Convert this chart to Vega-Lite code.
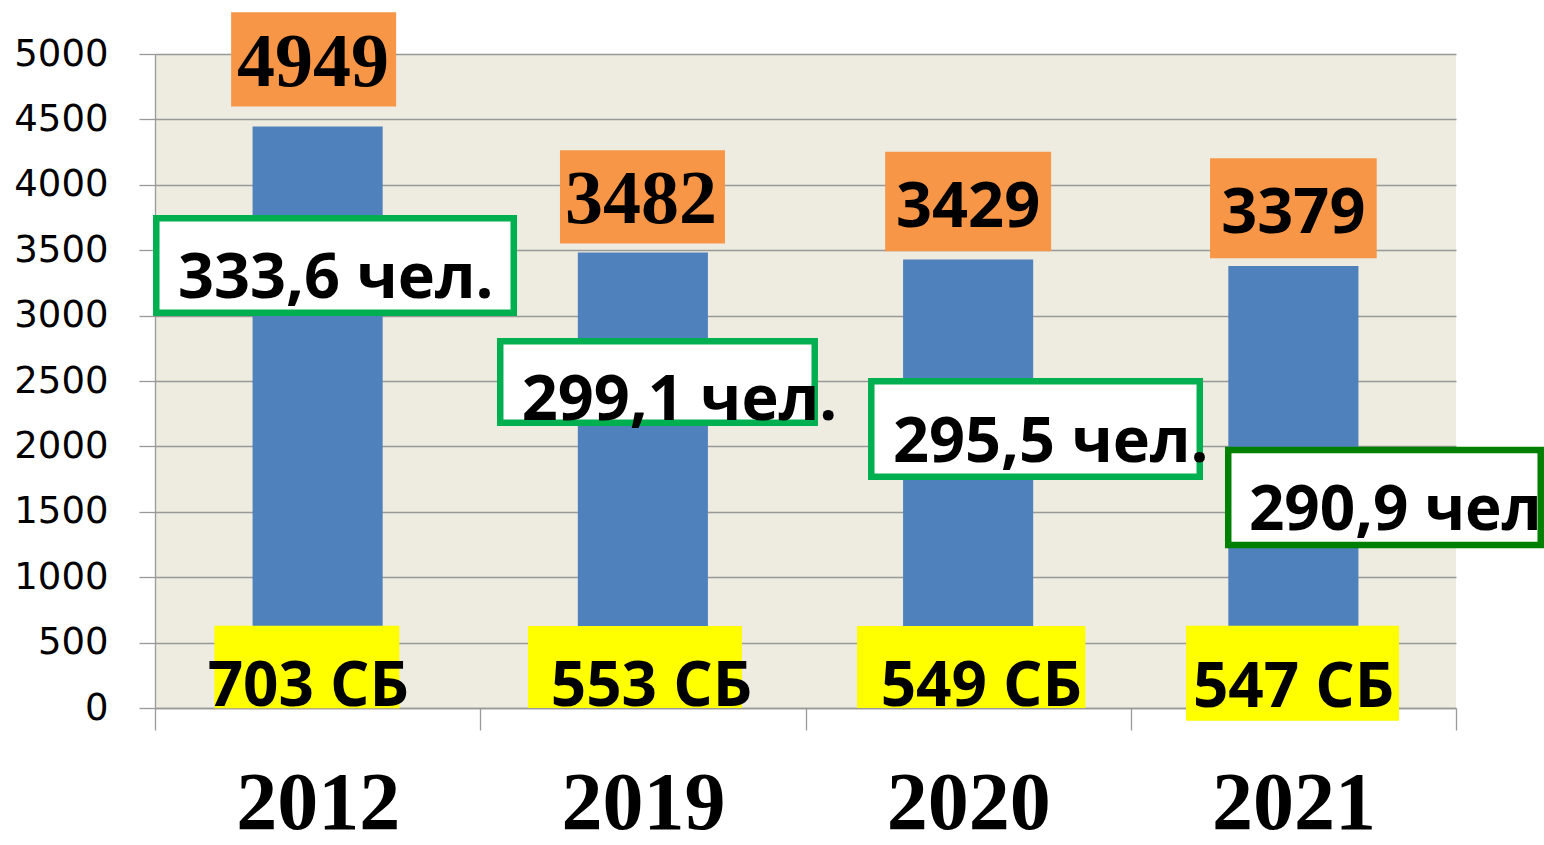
{
  "$schema": "https://vega.github.io/schema/vega-lite/v6.json",
  "width": 1301,
  "height": 654,
  "autosize": {"type": "none"},
  "padding": {"left": 155, "top": 54, "right": 88, "bottom": 137},
  "background": "white",
  "config": {
    "view": {"fill": "#EEECE1", "stroke": null}
  },
  "data": {
    "values": [
      {"year": "2012", "value": 4445, "label": "4949", "per": "333,6 чел.", "sb": "703 СБ"},
      {"year": "2019", "value": 3482, "label": "3482", "per": "299,1 чел.", "sb": "553 СБ"},
      {"year": "2020", "value": 3429, "label": "3429", "per": "295,5 чел.", "sb": "549 СБ"},
      {"year": "2021", "value": 3379, "label": "3379", "per": "290,9 чел", "sb": "547 СБ"}
    ]
  },
  "encoding": {
    "x": {
      "field": "year", "type": "nominal", "sort": null,
      "scale": {"paddingInner": 0, "paddingOuter": 0},
      "axis": {
        "title": null, "tickBand": "extent", "ticks": true, "tickSize": 22, "tickColor": "#999999", "tickWidth": 1.3,
        "domain": true, "domainColor": "#999999", "domainWidth": 1.3, "grid": false,
        "labelFont": "Liberation Serif", "labelFontWeight": "bold", "labelFontSize": 82, "labelColor": "black",
        "labelAngle": 0, "labelBaseline": "alphabetic", "labelPadding": 98, "labelLimit": 0
      }
    },
    "y": {
      "field": "value", "type": "quantitative",
      "scale": {"domain": [0, 5000], "nice": false, "zero": true},
      "axis": {
        "title": null, "values": [0, 500, 1000, 1500, 2000, 2500, 3000, 3500, 4000, 4500, 5000], "format": "d",
        "grid": true, "gridColor": "#999999", "gridWidth": 1.3,
        "domain": true, "domainColor": "#999999", "domainWidth": 1.3,
        "ticks": true, "tickSize": 16, "tickColor": "#999999", "tickWidth": 1.3,
        "labelFont": "DejaVu Sans", "labelFontSize": 37, "labelColor": "black", "labelPadding": 31,
        "labelFlush": false, "labelOverlap": false
      }
    }
  },
  "layer": [
    {"mark": {"type": "bar", "color": "#4F81BD", "width": {"band": 0.4}}},
    {
      "transform": [{"filter": "datum.year == '2012'"}],
      "layer": [
        {"mark": {"type": "point", "shape": "M-1,-0.572H1V0.572H-1Z", "size": 27225, "filled": true, "fill": "#F79646", "stroke": null, "opacity": 1, "xOffset": -4, "yOffset": -67.2}},
        {"mark": {"type": "text", "font": "Liberation Serif", "fontWeight": "bold", "fontSize": 76, "color": "black", "baseline": "alphabetic", "align": "center", "dx": -4.7, "dy": -40.6}, "encoding": {"text": {"field": "label"}}},
        {"mark": {"type": "point", "shape": "M-1,-0.2643H1V0.2643H-1Z", "size": 127806, "filled": true, "fill": "white", "stroke": "#00B050", "strokeWidth": 6.5, "opacity": 1, "xOffset": 17.4, "yOffset": 138.9}},
        {"mark": {"type": "text", "font": "Open Sans", "fontWeight": "bold", "fontSize": 63, "color": "black", "baseline": "alphabetic", "align": "left", "dx": -139.6, "dy": 171.4}, "encoding": {"text": {"field": "per"}}},
        {"mark": {"type": "point", "shape": "M-1,-0.4465H1V0.4465H-1Z", "size": 34225, "filled": true, "fill": "#FFFF00", "stroke": null, "opacity": 1, "xOffset": -10.8, "yOffset": 540.4}},
        {"mark": {"type": "text", "font": "Open Sans", "fontWeight": "bold", "fontSize": 62, "color": "black", "baseline": "alphabetic", "align": "center", "dx": -9.2, "dy": 579.4}, "encoding": {"text": {"field": "sb"}}}
      ]
    },
    {
      "transform": [{"filter": "datum.year == '2019'"}],
      "layer": [
        {"mark": {"type": "point", "shape": "M-1,-0.5655H1V0.5655H-1Z", "size": 27225, "filled": true, "fill": "#F79646", "stroke": null, "opacity": 1, "xOffset": -0.4, "yOffset": -55.6}},
        {"mark": {"type": "text", "font": "Liberation Serif", "fontWeight": "bold", "fontSize": 76, "color": "black", "baseline": "alphabetic", "align": "center", "dx": -2, "dy": -29.3}, "encoding": {"text": {"field": "label"}}},
        {"mark": {"type": "point", "shape": "M-1,-0.2591H1V0.2591H-1Z", "size": 98910, "filled": true, "fill": "white", "stroke": "#00B050", "strokeWidth": 6.5, "opacity": 1, "xOffset": 14.6, "yOffset": 129.4}},
        {"mark": {"type": "text", "font": "Open Sans", "fontWeight": "bold", "fontSize": 63, "color": "black", "baseline": "alphabetic", "align": "left", "dx": -121.2, "dy": 167.4}, "encoding": {"text": {"field": "per"}}},
        {"mark": {"type": "point", "shape": "M-1,-0.383H1V0.383H-1Z", "size": 45796, "filled": true, "fill": "#FFFF00", "stroke": null, "opacity": 1, "xOffset": -7.9, "yOffset": 414.4}},
        {"mark": {"type": "text", "font": "Open Sans", "fontWeight": "bold", "fontSize": 62, "color": "black", "baseline": "alphabetic", "align": "center", "dx": 8.6, "dy": 453.4}, "encoding": {"text": {"field": "sb"}}}
      ]
    },
    {
      "transform": [{"filter": "datum.year == '2020'"}],
      "layer": [
        {"mark": {"type": "point", "shape": "M-1,-0.5988H1V0.5988H-1Z", "size": 27556, "filled": true, "fill": "#F79646", "stroke": null, "opacity": 1, "xOffset": 0, "yOffset": -58}},
        {"mark": {"type": "text", "font": "Open Sans", "fontWeight": "bold", "fontSize": 63, "color": "black", "baseline": "alphabetic", "align": "center", "dx": 0, "dy": -32.5}, "encoding": {"text": {"field": "label"}}},
        {"mark": {"type": "point", "shape": "M-1,-0.2907H1V0.2907H-1Z", "size": 107912, "filled": true, "fill": "white", "stroke": "#00B050", "strokeWidth": 6.5, "opacity": 1, "xOffset": 67.4, "yOffset": 169.5}},
        {"mark": {"type": "text", "font": "Open Sans", "fontWeight": "bold", "fontSize": 63, "color": "black", "baseline": "alphabetic", "align": "left", "dx": -75.1, "dy": 202.5}, "encoding": {"text": {"field": "per"}}},
        {"mark": {"type": "point", "shape": "M-1,-0.359H1V0.359H-1Z", "size": 52167, "filled": true, "fill": "#FFFF00", "stroke": null, "opacity": 1, "xOffset": 3.1, "yOffset": 407.5}},
        {"mark": {"type": "text", "font": "Open Sans", "fontWeight": "bold", "fontSize": 62, "color": "black", "baseline": "alphabetic", "align": "center", "dx": 13.3, "dy": 446.5}, "encoding": {"text": {"field": "sb"}}}
      ]
    },
    {
      "transform": [{"filter": "datum.year == '2021'"}],
      "layer": [
        {"mark": {"type": "point", "shape": "M-1,-0.6H1V0.6H-1Z", "size": 27789, "filled": true, "fill": "#F79646", "stroke": null, "opacity": 1, "xOffset": 0, "yOffset": -57.7}},
        {"mark": {"type": "text", "font": "Open Sans", "fontWeight": "bold", "fontSize": 63, "color": "black", "baseline": "alphabetic", "align": "center", "dx": 0, "dy": -33}, "encoding": {"text": {"field": "label"}}},
        {"mark": {"type": "point", "shape": "M-1,-0.304H1V0.304H-1Z", "size": 97656, "filled": true, "fill": "white", "stroke": "#008000", "strokeWidth": 6.5, "opacity": 1, "xOffset": 91.1, "yOffset": 231.5}},
        {"mark": {"type": "text", "font": "Open Sans", "fontWeight": "bold", "fontSize": 62, "color": "black", "baseline": "alphabetic", "align": "left", "dx": -44.5, "dy": 264}, "encoding": {"text": {"field": "per"}}},
        {"mark": {"type": "point", "shape": "M-1,-0.446H1V0.446H-1Z", "size": 45369, "filled": true, "fill": "#FFFF00", "stroke": null, "opacity": 1, "xOffset": -0.9, "yOffset": 407.2}},
        {"mark": {"type": "text", "font": "Open Sans", "fontWeight": "bold", "fontSize": 62, "color": "black", "baseline": "alphabetic", "align": "center", "dx": 0.3, "dy": 441}, "encoding": {"text": {"field": "sb"}}}
      ]
    }
  ]
}
